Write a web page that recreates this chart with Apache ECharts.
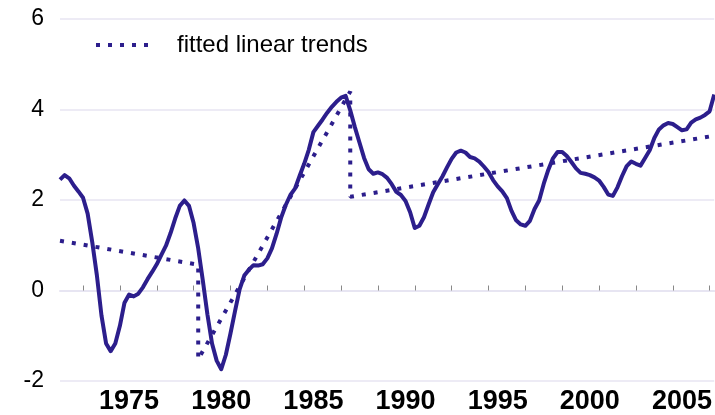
<!DOCTYPE html>
<html>
<head>
<meta charset="utf-8">
<script src="https://cdn.jsdelivr.net/npm/echarts@6/dist/echarts.min.js"></script>
<style>
html,body{margin:0;padding:0;background:#fff;}
#chart{width:715px;height:415px;}
</style>
</head>
<body>
<div id="chart"></div>
<script>
// Quarterly series, starting 1971 Q4 (1971.75), step 0.25 year
var startYear = 1971.75;
var seriesValues = [
  2.45, 2.55, 2.48, 2.32, 2.19, 2.05, 1.70, 1.07, 0.34, -0.55,
  -1.17, -1.34, -1.17, -0.78, -0.27, -0.09, -0.13, -0.07, 0.07, 0.25,
  0.41, 0.58, 0.79, 0.99, 1.27, 1.59, 1.87, 1.99, 1.87, 1.49,
  0.93, 0.22, -0.53, -1.17, -1.55, -1.74, -1.42, -0.95, -0.45, 0.03,
  0.33, 0.46, 0.56, 0.55, 0.58, 0.71, 0.93, 1.25, 1.61, 1.89,
  2.11, 2.25, 2.53, 2.80, 3.11, 3.50, 3.64, 3.78, 3.93, 4.06,
  4.17, 4.26, 4.30, 3.98, 3.61, 3.27, 2.93, 2.68, 2.58, 2.61,
  2.57, 2.49, 2.35, 2.18, 2.11, 1.98, 1.73, 1.38, 1.43, 1.62,
  1.90, 2.17, 2.35, 2.52, 2.72, 2.91, 3.05, 3.09, 3.05, 2.95,
  2.92, 2.85, 2.74, 2.62, 2.44, 2.30, 2.19, 2.04, 1.76, 1.55,
  1.46, 1.43, 1.54, 1.80, 1.99, 2.36, 2.67, 2.92, 3.06, 3.06,
  2.97, 2.84, 2.70, 2.60, 2.58, 2.55, 2.50, 2.43, 2.29, 2.12,
  2.09, 2.28, 2.53, 2.75, 2.85, 2.80, 2.76, 2.93, 3.10, 3.37,
  3.56, 3.65, 3.70, 3.68, 3.61, 3.54, 3.56, 3.71, 3.78, 3.82,
  3.88, 3.96, 4.33
];
// Fitted linear trends (piecewise, with breaks)
var trendYears  = [1971.75, 1979.25, 1979.25, 1987.5, 1987.5, 2007.25];
var trendValues = [1.10,    0.57,    -1.52,   4.40,   2.07,   3.42];
var trendName = 'fitted linear trends';
var xTickYears = [1973,1975,1977,1979,1981,1983,1985,1987,1989,1991,1993,1995,1997,1999,2001,2003,2005,2007];
var xLabelYears = [1975,1980,1985,1990,1995,2000,2005];
var yTicks = [-2, 0, 2, 4, 6];

var lineData = seriesValues.map(function(v, i){ return [startYear + 0.25 * i, v]; });
var trendData = trendYears.map(function(y, i){ return [y, trendValues[i]]; });
var color = '#2c1e8c';
var gridColor = '#e7e5f2';

var chart = echarts.init(document.getElementById('chart'), null, {renderer: 'canvas'});
chart.setOption({
  animation: false,
  backgroundColor: '#fff',
  grid: {left: 60, right: 0, top: 19, bottom: 34, containLabel: false},
  legend: {
    data: [trendName],
    left: 89, top: 28,
    itemWidth: 58, itemHeight: 14,
    itemStyle: {opacity: 0},
    lineStyle: {color: color, width: 4, type: [4, 8], opacity: 1},
    textStyle: {fontFamily: 'Liberation Sans, Arial, sans-serif', fontSize: 24, color: '#000', padding: [0,0,0,18]}
  },
  xAxis: {
    type: 'value',
    min: startYear, max: 2007.25,
    splitLine: {show: false},
    axisLine: {show: true, lineStyle: {color: gridColor, width: 2}},
    axisTick: {show: true, inside: true, length: 5, lineStyle: {color: '#888', width: 1}, customValues: xTickYears},
    axisLabel: {
      customValues: xLabelYears.map(function(y){ return y + 0.5; }),
      formatter: function(v){ return String(Math.floor(v)); },
      fontFamily: 'Liberation Sans, Arial, sans-serif', fontWeight: 'bold', fontSize: 27, color: '#000', margin: 7
    }
  },
  yAxis: {
    type: 'value',
    min: -2, max: 6, interval: 2,
    axisLine: {show: false},
    axisTick: {show: false},
    splitLine: {show: true, lineStyle: {color: gridColor, width: 1.5}},
    axisLabel: {
      customValues: yTicks,
      fontFamily: 'Liberation Sans, Arial, sans-serif', fontSize: 23, color: '#000', margin: 16
    }
  },
  series: [
    {
      name: 'series',
      type: 'line',
      data: lineData,
      showSymbol: false, symbol: 'none',
      lineStyle: {color: color, width: 4, join: 'round'},
      itemStyle: {color: color},
      z: 3
    },
    {
      name: trendName,
      type: 'line',
      data: trendData,
      showSymbol: false, symbol: 'none',
      lineStyle: {color: color, width: 4, type: [4, 8]},
      itemStyle: {color: color},
      z: 2
    }
  ]
});
</script>
</body>
</html>
